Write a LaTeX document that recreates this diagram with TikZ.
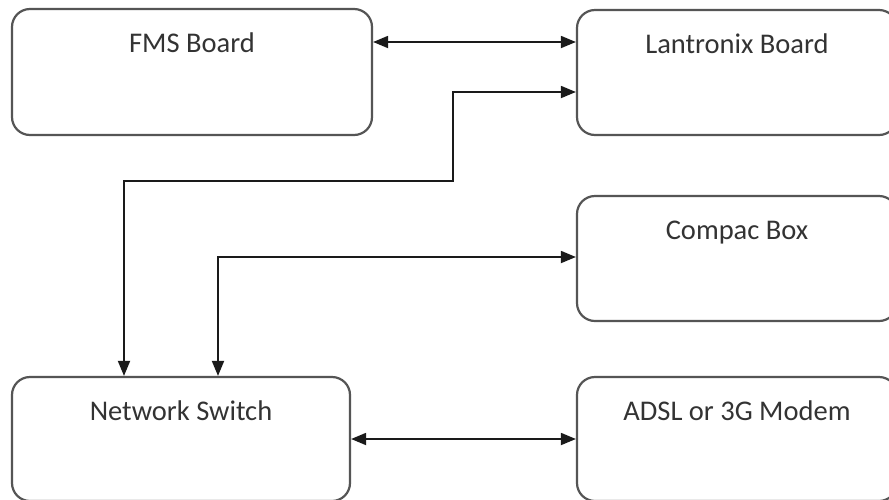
\documentclass[tikz,border=0pt]{standalone}
\usepackage{fontspec}
\setmainfont{Carlito}
\usetikzlibrary{arrows.meta}
\definecolor{boxline}{HTML}{555555}
\definecolor{txt}{HTML}{333333}
\definecolor{conline}{HTML}{1A1A1A}
\tikzset{
  box/.style={draw=boxline, line width=2.2pt, rounded corners=18pt, rectangle, inner sep=0pt, fill=white},
  lbl/.style={anchor=base, yshift=-44.5pt, inner sep=0pt, text=txt, font=\fontsize{28.5}{32}\selectfont},
  conn/.style={draw=conline, line width=1.8pt, {Triangle[length=15pt,width=12pt]}-{Triangle[length=15pt,width=12pt]}},
}
\begin{document}
\begin{tikzpicture}[x=1pt,y=-1pt]
\useasboundingbox (0,0) rectangle (889,499);
\fill[white] (0,0) rectangle (889,499);
\clip (0,0) rectangle (889,499);
\node[box, minimum width=360pt, minimum height=126pt, label={[lbl]north:FMS Board}] (fms) at (192,72) {};
\node[box, minimum width=320pt, minimum height=125pt, label={[lbl]north:Lantronix Board}] (lan) at (737,72.5) {};
\node[box, minimum width=320pt, minimum height=125pt, label={[lbl]north:Compac Box}] (cmp) at (737,258.5) {};
\node[box, minimum width=338pt, minimum height=124pt, label={[lbl]north:Network Switch}] (ns) at (181,439) {};
\node[box, minimum width=320pt, minimum height=124pt, label={[lbl]north:ADSL or 3G Modem}] (adsl) at (737,439) {};
\coordinate (b1) at (124,181);
\coordinate (b2) at (453,92);
\coordinate (c1) at (218,257);
\draw[conn] (fms.east |- 0,42) -- (lan.west |- 0,42);
\draw[conn] (ns.north -| b1) -- (b1) -| (b2) -- (lan.west |- b2);
\draw[conn] (ns.north -| c1) -- (c1) -- (cmp.west |- c1);
\draw[conn] (ns.east) -- (adsl.west);
\end{tikzpicture}
\end{document}
